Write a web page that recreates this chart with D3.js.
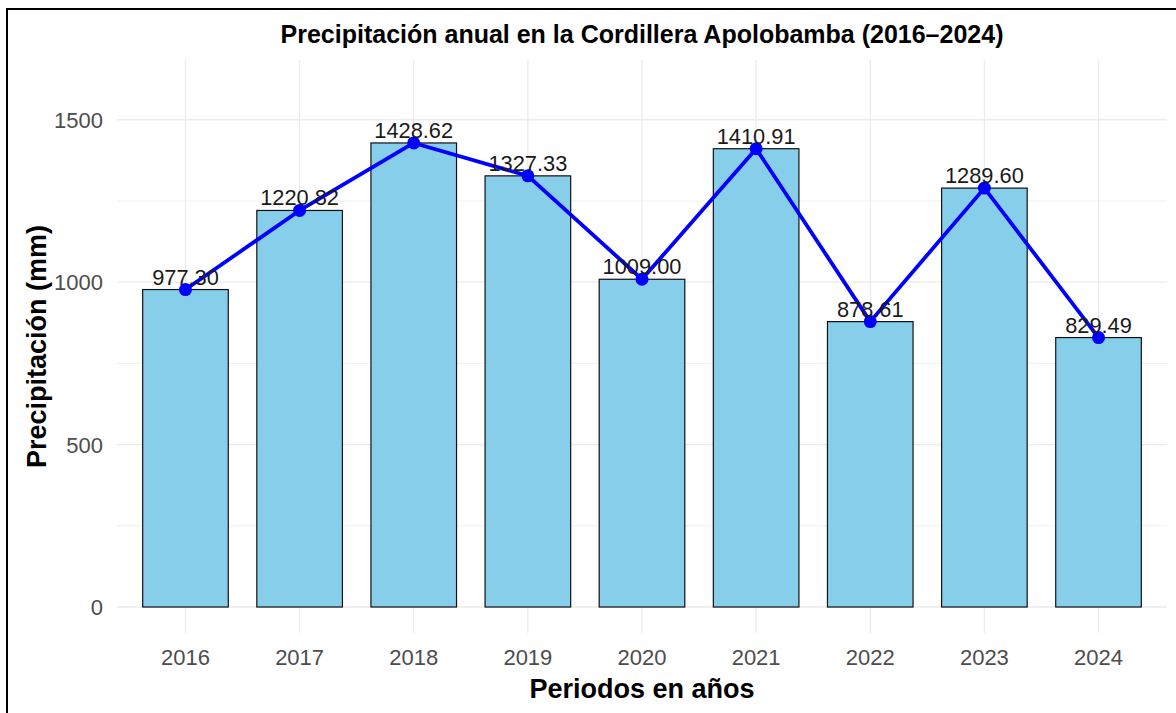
<!DOCTYPE html>
<html>
<head>
<meta charset="utf-8">
<script src="https://cdn.jsdelivr.net/npm/d3@7"></script>
<style>
html, body { margin: 0; padding: 0; background: #fff; }
svg { display: block; font-family: "Liberation Sans", Arial, sans-serif; }
</style>
</head>
<body>
<svg id="chart" width="1176" height="713"></svg>
<script>
const years = ["2016","2017","2018","2019","2020","2021","2022","2023","2024"];
const precip = [977.30, 1220.82, 1428.62, 1327.33, 1009.00, 1410.91, 878.61, 1289.60, 829.49];
const majorTicks = [0, 500, 1000, 1500];
const minorTicks = [250, 750, 1250];
const titleText = "Precipitación anual en la Cordillera Apolobamba (2016–2024)";
const xTitle = "Periodos en años";
const yTitle = "Precipitación (mm)";

(function () {
const svg = d3.select("#chart");
const W = 1176, H = 713;
const pL = 117, pR = 1167, pT = 60, pB = 633;

svg.append("rect").attr("x", 0).attr("y", 0).attr("width", W).attr("height", H).attr("fill", "#fff");
// outer frame (cropped at right/bottom)
svg.append("rect").attr("x", 7).attr("y", 9).attr("width", W + 20).attr("height", H + 20)
  .attr("fill", "none").attr("stroke", "#000").attr("stroke-width", 2);

const x = d3.scalePoint().domain(years).range([pL, pR]).padding(0.6);
const y = d3.scaleLinear().domain([-80, 1684]).range([pB, pT]);
const bw = x.step() * 0.75;

const grid = svg.append("g");
grid.selectAll(".minor").data(minorTicks).join("line")
  .attr("x1", pL).attr("x2", pR)
  .attr("y1", d => y(d)).attr("y2", d => y(d))
  .attr("stroke", "#f0f0f0").attr("stroke-width", 1);
grid.selectAll(".major").data(majorTicks).join("line")
  .attr("x1", pL).attr("x2", pR)
  .attr("y1", d => y(d)).attr("y2", d => y(d))
  .attr("stroke", "#ebebeb").attr("stroke-width", 1.3);
grid.selectAll(".vmajor").data(years).join("line")
  .attr("x1", d => x(d)).attr("x2", d => x(d))
  .attr("y1", pT).attr("y2", pB)
  .attr("stroke", "#ebebeb").attr("stroke-width", 1.3);

// bars
svg.append("g").selectAll("rect").data(years).join("rect")
  .attr("x", (d) => x(d) - bw / 2)
  .attr("y", (d, i) => y(precip[i]))
  .attr("width", bw)
  .attr("height", (d, i) => y(0) - y(precip[i]))
  .attr("fill", "#87CEEB").attr("stroke", "#111").attr("stroke-width", 1.2);

// line
const line = d3.line().x((d, i) => x(years[i])).y(d => y(d));
svg.append("path").datum(precip).attr("d", line)
  .attr("fill", "none").attr("stroke", "#0000FF").attr("stroke-width", 3.8)
  .attr("stroke-linejoin", "round");
svg.append("g").selectAll("circle").data(precip).join("circle")
  .attr("cx", (d, i) => x(years[i])).attr("cy", d => y(d)).attr("r", 6.5)
  .attr("fill", "#0000FF");

// value labels
svg.append("g").selectAll("text").data(precip).join("text")
  .attr("x", (d, i) => x(years[i])).attr("y", d => y(d) - 5)
  .attr("text-anchor", "middle").attr("font-size", 21.8).attr("fill", "#1a1a1a")
  .text(d => d.toFixed(2));

// y tick labels
svg.append("g").selectAll("text").data(majorTicks).join("text")
  .attr("x", 103).attr("y", d => y(d)).attr("dy", "0.36em")
  .attr("text-anchor", "end").attr("font-size", 22).attr("fill", "#4d4d4d")
  .text(d => d);

// x tick labels
svg.append("g").selectAll("text").data(years).join("text")
  .attr("x", d => x(d)).attr("y", 665)
  .attr("text-anchor", "middle").attr("font-size", 22).attr("fill", "#4d4d4d")
  .text(d => d);

// titles
svg.append("text").attr("x", (pL + pR) / 2).attr("y", 43)
  .attr("text-anchor", "middle").attr("font-size", 25).attr("font-weight", "bold").attr("fill", "#000")
  .text(titleText);
svg.append("text").attr("x", (pL + pR) / 2).attr("y", 698)
  .attr("text-anchor", "middle").attr("font-size", 27).attr("font-weight", "bold").attr("fill", "#000")
  .text(xTitle);
svg.append("text").attr("transform", `translate(46,${(pT + pB) / 2}) rotate(-90)`)
  .attr("text-anchor", "middle").attr("font-size", 27).attr("font-weight", "bold").attr("fill", "#000")
  .text(yTitle);
})();
</script>
</body>
</html>
